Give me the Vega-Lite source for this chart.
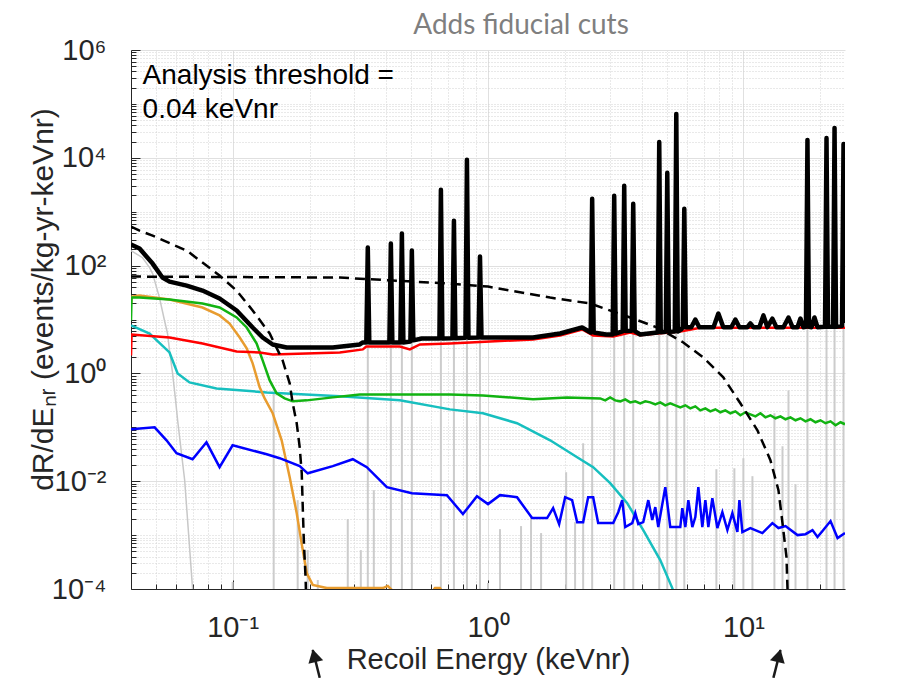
{
  "$schema": "https://vega.github.io/schema/vega-lite/v6.json",
  "width": 714,
  "height": 539,
  "autosize": {"type": "none"},
  "padding": {"left": 131, "top": 50, "right": 56, "bottom": 89},
  "background": "white",
  "config": {"view": {"stroke": null}, "font": "Liberation Sans"},
  "title": {"text": "Adds fiducial cuts", "font": "Lato", "fontSize": 28, "fontWeight": "normal", "color": "#7f7f7f", "anchor": "middle", "frame": "group", "dx": 33, "dy": 29, "offset": 3, "baseline": "alphabetic"},
  "datasets": {
    "graySpikes": [
      {"E": 0.3383, "v": 216}, {"E": 0.4165, "v": 256}, {"E": 0.46, "v": 392}, {"E": 0.5033, "v": 190},
      {"E": 0.654, "v": 2557}, {"E": 0.7355, "v": 681}, {"E": 0.8271, "v": 9184}, {"E": 0.9303, "v": 147},
      {"E": 2.558, "v": 1742}, {"E": 3.12, "v": 1979}, {"E": 3.415, "v": 3030}, {"E": 3.704, "v": 1408},
      {"E": 4.683, "v": 19700}, {"E": 5.035, "v": 5271}, {"E": 5.461, "v": 65300}, {"E": 5.87, "v": 1133},
      {"E": 17.82, "v": 21500}, {"E": 21.16, "v": 23400}, {"E": 22.75, "v": 35900}, {"E": 24.67, "v": 18100},
      {"E": 0.1, "v": 0.000135}, {"E": 0.1448, "v": 0.426}, {"E": 0.1798, "v": 0.00445}, {"E": 0.1968, "v": 0.000527},
      {"E": 0.2155, "v": 0.000147}, {"E": 0.2824, "v": 0.00198}, {"E": 0.3177, "v": 0.000527}, {"E": 0.3572, "v": 0.00681},
      {"E": 1.0, "v": 0.000129}, {"E": 1.114, "v": 0.00129}, {"E": 1.347, "v": 0.00147}, {"E": 1.474, "v": 0.00215},
      {"E": 1.614, "v": 0.00109}, {"E": 2.023, "v": 0.0147}, {"E": 2.193, "v": 0.00174}, {"E": 2.358, "v": 0.0506},
      {"E": 7.839, "v": 0.0167}, {"E": 9.221, "v": 0.0174}, {"E": 10, "v": 0.0267}, {"E": 10.85, "v": 0.0124},
      {"E": 13.23, "v": 0.182}, {"E": 14.23, "v": 0.0445}, {"E": 15.02, "v": 0.484}, {"E": 16.0, "v": 0.0088}
    ],
    "grayCurve": [
      {"E": 0.04, "v": 190}, {"E": 0.0444, "v": 140}, {"E": 0.0473, "v": 91.8}, {"E": 0.0486, "v": 71.1},
      {"E": 0.0517, "v": 25.5}, {"E": 0.0541, "v": 9.58}, {"E": 0.0556, "v": 5.5}, {"E": 0.0566, "v": 2.67},
      {"E": 0.0582, "v": 1.0}, {"E": 0.0598, "v": 0.316}, {"E": 0.0609, "v": 0.135}, {"E": 0.0649, "v": 0.0104},
      {"E": 0.0697, "v": 0.0001}, {"E": 0.0703, "v": 0.00006}
    ],
    "cyan": [
      {"E": 0.04, "v": 7.74}, {"E": 0.0473, "v": 5.5}, {"E": 0.0566, "v": 2.45}, {"E": 0.0609, "v": 1.0},
      {"E": 0.0678, "v": 0.681}, {"E": 0.0865, "v": 0.527}, {"E": 0.136, "v": 0.444}, {"E": 0.2628, "v": 0.375},
      {"E": 0.4517, "v": 0.316}, {"E": 0.7094, "v": 0.215}, {"E": 0.956, "v": 0.182}, {"E": 1.299, "v": 0.119},
      {"E": 1.751, "v": 0.0574}, {"E": 2.234, "v": 0.0278}, {"E": 2.581, "v": 0.0182}, {"E": 3.009, "v": 0.00918},
      {"E": 3.508, "v": 0.00392}, {"E": 4.054, "v": 0.00124}, {"E": 4.726, "v": 0.000344}, {"E": 5.268, "v": 0.000104},
      {"E": 5.461, "v": 0.000063}
    ],
    "orange": [
      {"E": 0.04, "v": 19.8}, {"E": 0.0402, "v": 26.6}, {"E": 0.0432, "v": 27.8}, {"E": 0.0566, "v": 23.5},
      {"E": 0.0762, "v": 16.7}, {"E": 0.0889, "v": 11.9}, {"E": 0.0973, "v": 8.43}, {"E": 0.1066, "v": 4.64},
      {"E": 0.1135, "v": 2.91}, {"E": 0.1198, "v": 1.54}, {"E": 0.1276, "v": 0.551}, {"E": 0.1335, "v": 0.344},
      {"E": 0.1435, "v": 0.182}, {"E": 0.1556, "v": 0.0574}, {"E": 0.1673, "v": 0.01185}, {"E": 0.1782, "v": 0.00256},
      {"E": 0.1865, "v": 0.000681}, {"E": 0.195, "v": 0.000198}, {"E": 0.2059, "v": 0.000119}, {"E": 0.2337, "v": 0.000104},
      {"E": 0.3875, "v": 0.000104}, {"E": 0.4053, "v": 0.000114}, {"E": 0.428, "v": 0.000088}, {"E": 0.603, "v": 0.000088},
      {"E": 0.62, "v": 0.000104}, {"E": 0.6481, "v": 0.000104}, {"E": 0.666, "v": 0.000088}
    ],
    "green": [
      {"E": 0.04, "v": 9.58}, {"E": 0.0402, "v": 25.5}, {"E": 0.0432, "v": 25.5}, {"E": 0.0566, "v": 23.5},
      {"E": 0.0762, "v": 19.8}, {"E": 0.0889, "v": 16.7}, {"E": 0.1037, "v": 10.9}, {"E": 0.1135, "v": 7.11},
      {"E": 0.1242, "v": 3.59}, {"E": 0.1311, "v": 1.74}, {"E": 0.1397, "v": 0.742}, {"E": 0.1487, "v": 0.426},
      {"E": 0.1599, "v": 0.344}, {"E": 0.1719, "v": 0.303}, {"E": 0.195, "v": 0.316}, {"E": 0.2467, "v": 0.359},
      {"E": 0.3148, "v": 0.408}, {"E": 0.7094, "v": 0.408}, {"E": 0.956, "v": 0.391}, {"E": 1.501, "v": 0.33},
      {"E": 2.041, "v": 0.359},
      {"E": 2.749, "v": 0.344}, {"E": 2.877, "v": 0.316}, {"E": 3.009, "v": 0.359}, {"E": 3.149, "v": 0.316},
      {"E": 3.294, "v": 0.303}, {"E": 3.447, "v": 0.33}, {"E": 3.605, "v": 0.29}, {"E": 3.773, "v": 0.303},
      {"E": 3.946, "v": 0.278}, {"E": 4.129, "v": 0.303}, {"E": 4.318, "v": 0.29}, {"E": 4.519, "v": 0.267},
      {"E": 4.726, "v": 0.29}, {"E": 4.946, "v": 0.256}, {"E": 5.173, "v": 0.278}, {"E": 5.413, "v": 0.256},
      {"E": 5.662, "v": 0.235}, {"E": 5.925, "v": 0.256}, {"E": 6.197, "v": 0.225}, {"E": 6.485, "v": 0.245},
      {"E": 6.782, "v": 0.206}, {"E": 7.097, "v": 0.225}, {"E": 7.423, "v": 0.198}, {"E": 7.768, "v": 0.216},
      {"E": 8.124, "v": 0.19}, {"E": 8.501, "v": 0.206}, {"E": 8.892, "v": 0.182}, {"E": 9.305, "v": 0.198},
      {"E": 9.732, "v": 0.167}, {"E": 10.18, "v": 0.19}, {"E": 10.65, "v": 0.174}, {"E": 11.15, "v": 0.16},
      {"E": 11.66, "v": 0.182}, {"E": 12.2, "v": 0.153}, {"E": 12.76, "v": 0.167}, {"E": 13.35, "v": 0.147},
      {"E": 13.97, "v": 0.16}, {"E": 14.62, "v": 0.141}, {"E": 15.29, "v": 0.153}, {"E": 16.0, "v": 0.135},
      {"E": 16.73, "v": 0.147}, {"E": 17.51, "v": 0.129}, {"E": 18.31, "v": 0.141}, {"E": 19.16, "v": 0.124},
      {"E": 20.04, "v": 0.135}, {"E": 20.97, "v": 0.119}, {"E": 21.94, "v": 0.129}, {"E": 22.96, "v": 0.109},
      {"E": 24.01, "v": 0.124}, {"E": 25.0, "v": 0.114}
    ],
    "red": [
      {"E": 0.04, "v": 2.15}, {"E": 0.0402, "v": 5.27}, {"E": 0.0566, "v": 4.64}, {"E": 0.0762, "v": 3.59},
      {"E": 0.1037, "v": 2.56}, {"E": 0.1276, "v": 2.45}, {"E": 0.1435, "v": 2.24}, {"E": 0.2628, "v": 2.45},
      {"E": 0.3235, "v": 2.79}, {"E": 0.3337, "v": 3.16}, {"E": 0.4517, "v": 3.16}, {"E": 0.4943, "v": 2.79},
      {"E": 0.5411, "v": 3.44}, {"E": 0.7094, "v": 3.59}, {"E": 1.501, "v": 4.26}, {"E": 1.916, "v": 5.05},
      {"E": 2.337, "v": 6.52}, {"E": 2.581, "v": 5.05}, {"E": 3.092, "v": 4.84}, {"E": 3.605, "v": 5.74},
      {"E": 3.946, "v": 5.1}, {"E": 4.6, "v": 5.5}, {"E": 5.662, "v": 6.0}, {"E": 6.782, "v": 7.0},
      {"E": 25, "v": 7.0}
    ],
    "blue": [
      {"E": 0.04, "v": 0.0918}, {"E": 0.0495, "v": 0.1}, {"E": 0.0551, "v": 0.0574}, {"E": 0.0603, "v": 0.033},
      {"E": 0.0697, "v": 0.0256}, {"E": 0.079, "v": 0.0527}, {"E": 0.0889, "v": 0.0182}, {"E": 0.1, "v": 0.0464},
      {"E": 0.136, "v": 0.0316}, {"E": 0.1528, "v": 0.0267}, {"E": 0.1831, "v": 0.019}, {"E": 0.1968, "v": 0.014},
      {"E": 0.2467, "v": 0.019}, {"E": 0.2955, "v": 0.0256}, {"E": 0.3353, "v": 0.0182}, {"E": 0.4017, "v": 0.00774},
      {"E": 0.5033, "v": 0.006}, {"E": 0.6904, "v": 0.00551}, {"E": 0.7977, "v": 0.00245}, {"E": 0.9054, "v": 0.00528},
      {"E": 1.0, "v": 0.00376}, {"E": 1.114, "v": 0.00551}, {"E": 1.299, "v": 0.00506}, {"E": 1.488, "v": 0.00207},
      {"E": 1.704, "v": 0.00207}, {"E": 1.799, "v": 0.00317}, {"E": 1.899, "v": 0.0016}, {"E": 2.005, "v": 0.00506},
      {"E": 2.135, "v": 0.00445}, {"E": 2.234, "v": 0.00174}, {"E": 2.358, "v": 0.00174}, {"E": 2.467, "v": 0.00506},
      {"E": 2.581, "v": 0.00506}, {"E": 2.7, "v": 0.00167}, {"E": 3.092, "v": 0.00167}, {"E": 3.236, "v": 0.00266},
      {"E": 3.354, "v": 0.00445}, {"E": 3.447, "v": 0.00141}, {"E": 3.671, "v": 0.00167}, {"E": 3.773, "v": 0.00256},
      {"E": 3.877, "v": 0.0016}, {"E": 4.054, "v": 0.00174}, {"E": 4.243, "v": 0.00445}, {"E": 4.397, "v": 0.0019},
      {"E": 4.519, "v": 0.00331}, {"E": 4.643, "v": 0.00141}, {"E": 4.946, "v": 0.00774}, {"E": 5.173, "v": 0.00141},
      {"E": 5.662, "v": 0.00141}, {"E": 5.766, "v": 0.00317}, {"E": 5.925, "v": 0.00141}, {"E": 6.088, "v": 0.00445},
      {"E": 6.311, "v": 0.00141}, {"E": 6.485, "v": 0.00216}, {"E": 6.663, "v": 0.00774}, {"E": 6.906, "v": 0.00141},
      {"E": 7.097, "v": 0.00445}, {"E": 7.292, "v": 0.00141}, {"E": 7.559, "v": 0.00485}, {"E": 7.91, "v": 0.00135},
      {"E": 8.273, "v": 0.00266}, {"E": 8.657, "v": 0.00124}, {"E": 9.055, "v": 0.00256}, {"E": 9.475, "v": 0.00114},
      {"E": 9.648, "v": 0.00445}, {"E": 9.91, "v": 0.00114}, {"E": 10.65, "v": 0.00135}, {"E": 11.87, "v": 0.00109},
      {"E": 12.99, "v": 0.00167}, {"E": 13.72, "v": 0.00135}, {"E": 14.62, "v": 0.00147}, {"E": 16.29, "v": 0.001},
      {"E": 17.51, "v": 0.00104}, {"E": 18.65, "v": 0.00124}, {"E": 19.51, "v": 0.00092}, {"E": 20.41, "v": 0.00119},
      {"E": 21.94, "v": 0.00182}, {"E": 23.38, "v": 0.00088}, {"E": 25, "v": 0.00109}
    ],
    "dashedFlat": [
      {"E": 0.04, "v": 62.6}, {"E": 0.2628, "v": 60.0}, {"E": 0.7094, "v": 46.4}, {"E": 1.0, "v": 40.8},
      {"E": 1.751, "v": 25.5}, {"E": 2.512, "v": 19.8}, {"E": 3.605, "v": 10.9}, {"E": 4.6, "v": 7.11},
      {"E": 5.818, "v": 3.75}, {"E": 6.969, "v": 1.97}, {"E": 8.347, "v": 0.843}, {"E": 9.732, "v": 0.279},
      {"E": 11.35, "v": 0.088}, {"E": 12.76, "v": 0.0245}, {"E": 13.72, "v": 0.00681}, {"E": 14.23, "v": 0.00167},
      {"E": 14.75, "v": 0.000391}, {"E": 14.89, "v": 0.000096}, {"E": 15.0, "v": 0.00004}
    ],
    "dashedSteep": [
      {"E": 0.04, "v": 527}, {"E": 0.0432, "v": 445}, {"E": 0.0486, "v": 359}, {"E": 0.0661, "v": 190},
      {"E": 0.0762, "v": 114}, {"E": 0.0889, "v": 65.3}, {"E": 0.1037, "v": 34.4}, {"E": 0.1198, "v": 14.7},
      {"E": 0.1397, "v": 5.5}, {"E": 0.157, "v": 1.74}, {"E": 0.1673, "v": 0.653}, {"E": 0.1719, "v": 0.279},
      {"E": 0.1782, "v": 0.119}, {"E": 0.1831, "v": 0.0426}, {"E": 0.1865, "v": 0.014}, {"E": 0.1882, "v": 0.00331},
      {"E": 0.19, "v": 0.000808}, {"E": 0.1932, "v": 0.000147}, {"E": 0.194, "v": 0.000063}
    ],
    "total": [
      {"E": 0.04, "v": 245}, {"E": 0.0432, "v": 207}, {"E": 0.0486, "v": 109}, {"E": 0.0531, "v": 60},
      {"E": 0.0566, "v": 50.5}, {"E": 0.0661, "v": 42.6}, {"E": 0.0762, "v": 34.4}, {"E": 0.0889, "v": 24.5},
      {"E": 0.1037, "v": 14.7}, {"E": 0.1198, "v": 7.11}, {"E": 0.1311, "v": 4.64}, {"E": 0.1435, "v": 3.44},
      {"E": 0.1628, "v": 3.03}, {"E": 0.2004, "v": 3.03}, {"E": 0.2467, "v": 3.03}, {"E": 0.3148, "v": 3.44},
      {"E": 0.3235, "v": 3.75},
      {"E": 0.3338, "v": 3.75}, {"E": 0.3383, "v": 216}, {"E": 0.3429, "v": 3.75},
      {"E": 0.38, "v": 3.75},
      {"E": 0.4109, "v": 3.75}, {"E": 0.4165, "v": 256}, {"E": 0.4222, "v": 3.75},
      {"E": 0.4538, "v": 3.75}, {"E": 0.46, "v": 392}, {"E": 0.4663, "v": 3.75},
      {"E": 0.4966, "v": 3.9}, {"E": 0.5033, "v": 190}, {"E": 0.5101, "v": 4.1},
      {"E": 0.55, "v": 4.44},
      {"E": 0.6452, "v": 4.44}, {"E": 0.654, "v": 2557}, {"E": 0.6629, "v": 4.44},
      {"E": 0.7256, "v": 4.5}, {"E": 0.7355, "v": 681}, {"E": 0.7455, "v": 4.5},
      {"E": 0.816, "v": 4.6}, {"E": 0.8271, "v": 9184}, {"E": 0.8384, "v": 4.6},
      {"E": 0.9178, "v": 4.64}, {"E": 0.9303, "v": 147}, {"E": 0.943, "v": 4.64},
      {"E": 1.5, "v": 4.64}, {"E": 1.916, "v": 5.5}, {"E": 2.337, "v": 7.11},
      {"E": 2.524, "v": 5.74}, {"E": 2.558, "v": 1742}, {"E": 2.593, "v": 5.74},
      {"E": 2.9, "v": 5.27},
      {"E": 3.078, "v": 5.27}, {"E": 3.12, "v": 1979}, {"E": 3.162, "v": 5.5},
      {"E": 3.369, "v": 6.0}, {"E": 3.415, "v": 3030}, {"E": 3.461, "v": 6.1},
      {"E": 3.654, "v": 6.2}, {"E": 3.704, "v": 1408}, {"E": 3.754, "v": 6.1},
      {"E": 3.946, "v": 5.27}, {"E": 4.6, "v": 5.74},
      {"E": 4.62, "v": 5.74}, {"E": 4.683, "v": 19700}, {"E": 4.747, "v": 5.8},
      {"E": 4.968, "v": 5.9}, {"E": 5.035, "v": 5271}, {"E": 5.104, "v": 5.9},
      {"E": 5.388, "v": 6.0}, {"E": 5.461, "v": 65300}, {"E": 5.535, "v": 6.0},
      {"E": 5.7, "v": 6.5},
      {"E": 5.791, "v": 7.2}, {"E": 5.87, "v": 1133}, {"E": 5.95, "v": 7.2},
      {"E": 6.25, "v": 7.2}, {"E": 6.485, "v": 10.0}, {"E": 6.72, "v": 7.2},
      {"E": 7.64, "v": 7.2}, {"E": 7.98, "v": 12.9}, {"E": 8.347, "v": 7.2},
      {"E": 8.97, "v": 7.2}, {"E": 9.305, "v": 10.0}, {"E": 9.65, "v": 7.2},
      {"E": 10.37, "v": 7.2}, {"E": 10.65, "v": 8.5}, {"E": 10.95, "v": 7.2},
      {"E": 11.55, "v": 7.2}, {"E": 11.98, "v": 11.9}, {"E": 12.42, "v": 7.2},
      {"E": 12.99, "v": 10.4}, {"E": 13.47, "v": 7.2},
      {"E": 14.35, "v": 7.2}, {"E": 15.02, "v": 10.9}, {"E": 15.57, "v": 7.2},
      {"E": 16.29, "v": 7.2}, {"E": 16.73, "v": 10.4}, {"E": 17.19, "v": 7.2},
      {"E": 17.58, "v": 7.3}, {"E": 17.82, "v": 21500}, {"E": 18.06, "v": 7.3},
      {"E": 18.48, "v": 7.2}, {"E": 18.98, "v": 10.9}, {"E": 19.51, "v": 7.2},
      {"E": 20.88, "v": 7.3}, {"E": 21.16, "v": 23400}, {"E": 21.45, "v": 7.3},
      {"E": 22.45, "v": 7.3}, {"E": 22.75, "v": 35900}, {"E": 23.06, "v": 7.3},
      {"E": 24.34, "v": 7.6}, {"E": 24.67, "v": 18100}, {"E": 25.0, "v": 8.6}
    ],
    "note": [
      {"E": 0.0444, "v": 234000, "t": "Analysis threshold ="},
      {"E": 0.0444, "v": 55000, "t": "0.04 keVnr"}
    ],
    "arrows": [
      {"E": 0.2194, "v": 0.00000225, "E2": 0.2059, "v2": 0.0000074},
      {"E": 13.11, "v": 0.00000225, "E2": 13.97, "v2": 0.0000074}
    ],
    "headLeft": [{"E": 0.2087, "v": 0.0000058}],
    "headRight": [{"E": 13.78, "v": 0.0000058}]
  },
  "encoding": {
    "x": {
      "field": "E", "type": "quantitative",
      "scale": {"type": "log", "domain": [0.04, 25], "nice": false},
      "axis": {
        "orient": "bottom",
        "values": [0.05, 0.06, 0.07, 0.08, 0.09, 0.1, 0.2, 0.3, 0.4, 0.5, 0.6, 0.7, 0.8, 0.9, 1, 2, 3, 4, 5, 6, 7, 8, 9, 10, 20],
        "labelExpr": "datum.value == 0.1 ? '10⁻¹' : datum.value == 1 ? '10⁰' : datum.value == 10 ? '10¹' : ''",
        "labelFont": "Liberation Sans", "labelFontSize": 29, "labelColor": "#262626",
        "labelBaseline": "alphabetic", "labelAlign": "center", "labelPadding": 56,
        "labelOverlap": false, "labelFlush": false, "labelBound": false,
        "ticks": true,
        "tickSize": {"condition": {"test": "datum.value == 0.1 || datum.value == 1 || datum.value == 10", "value": -9}, "value": -5},
        "tickColor": "#262626", "tickWidth": 1,
        "domain": true, "domainColor": "#262626", "domainWidth": 1,
        "grid": true, "gridWidth": 1,
        "gridColor": {"condition": {"test": "datum.value == 0.1 || datum.value == 1 || datum.value == 10", "value": "#e0e0e0"}, "value": "#d2d2d2"},
        "gridDash": {"condition": {"test": "datum.value == 0.1 || datum.value == 1 || datum.value == 10", "value": []}, "value": [1, 2]},
        "title": "Recoil Energy (keVnr)",
        "titleFont": "Liberation Sans", "titleFontSize": 29, "titleFontWeight": "normal", "titleColor": "#262626",
        "titleBaseline": "alphabetic", "titleY": 79
      }
    },
    "y": {
      "field": "v", "type": "quantitative",
      "scale": {"type": "log", "domain": [0.0001, 1000000], "nice": false},
      "axis": {
        "orient": "left",
        "values": [0.0001, 0.0002, 0.0003, 0.0004, 0.0005, 0.0006, 0.0007, 0.0008, 0.0009,
                   0.001, 0.002, 0.003, 0.004, 0.005, 0.006, 0.007, 0.008, 0.009,
                   0.01, 0.02, 0.03, 0.04, 0.05, 0.06, 0.07, 0.08, 0.09,
                   0.1, 0.2, 0.3, 0.4, 0.5, 0.6, 0.7, 0.8, 0.9,
                   1, 2, 3, 4, 5, 6, 7, 8, 9,
                   10, 20, 30, 40, 50, 60, 70, 80, 90,
                   100, 200, 300, 400, 500, 600, 700, 800, 900,
                   1000, 2000, 3000, 4000, 5000, 6000, 7000, 8000, 9000,
                   10000, 20000, 30000, 40000, 50000, 60000, 70000, 80000, 90000,
                   100000, 200000, 300000, 400000, 500000, 600000, 700000, 800000, 900000,
                   1000000],
        "labelExpr": "datum.value == 0.0001 ? '10⁻⁴' : datum.value == 0.01 ? '10⁻²' : datum.value == 1 ? '10⁰' : datum.value == 100 ? '10²' : datum.value == 10000 ? '10⁴' : datum.value == 1000000 ? '10⁶' : ''",
        "labelFont": "Liberation Sans", "labelFontSize": 29, "labelColor": "#262626",
        "labelAlign": "right", "labelBaseline": "middle", "labelPadding": 34,
        "labelOverlap": false, "labelFlush": false, "labelBound": false,
        "ticks": true,
        "tickSize": {"condition": {"test": "datum.value == 0.0001 || datum.value == 0.01 || datum.value == 1 || datum.value == 100 || datum.value == 10000 || datum.value == 1000000", "value": -9}, "value": -5},
        "tickColor": "#262626", "tickWidth": 1,
        "domain": true, "domainColor": "#262626", "domainWidth": 1,
        "grid": true, "gridWidth": 1,
        "gridColor": {"condition": {"test": "datum.value == 0.0001 || datum.value == 0.01 || datum.value == 1 || datum.value == 100 || datum.value == 10000 || datum.value == 1000000", "value": "#e0e0e0"}, "value": "#d2d2d2"},
        "gridDash": {"condition": {"test": "datum.value == 0.0001 || datum.value == 0.01 || datum.value == 1 || datum.value == 100 || datum.value == 10000 || datum.value == 1000000", "value": []}, "value": [1, 2]},
        "title": "dR/dEₙᵣ (events/kg-yr-keVnr)",
        "titleFont": "Liberation Sans", "titleFontSize": 30, "titleFontWeight": "normal", "titleColor": "#262626",
        "titleAngle": 270, "titleAlign": "center", "titleBaseline": "alphabetic", "titleX": -79, "titleY": 249
      }
    }
  },
  "layer": [
    {"data": {"name": "graySpikes"}, "mark": {"type": "rule", "color": "#cccccc", "strokeWidth": 2, "clip": true}, "encoding": {"y2": {"datum": 0.0001}}},
    {"data": {"name": "grayCurve"}, "mark": {"type": "line", "color": "#c8c8c8", "strokeWidth": 1.5, "clip": true}, "encoding": {}},
    {"data": {"name": "cyan"}, "mark": {"type": "line", "color": "#17bfbf", "strokeWidth": 2.5, "clip": true}, "encoding": {}},
    {"data": {"name": "orange"}, "mark": {"type": "line", "color": "#e89c2f", "strokeWidth": 2.5, "clip": true}, "encoding": {}},
    {"data": {"name": "green"}, "mark": {"type": "line", "color": "#12b312", "strokeWidth": 2.5, "clip": true}, "encoding": {}},
    {"data": {"name": "red"}, "mark": {"type": "line", "color": "#ff0000", "strokeWidth": 2.5, "clip": true}, "encoding": {}},
    {"data": {"name": "blue"}, "mark": {"type": "line", "color": "#0000ff", "strokeWidth": 2.5, "clip": true}, "encoding": {}},
    {"data": {"name": "dashedFlat"}, "mark": {"type": "line", "color": "#000000", "strokeWidth": 2.5, "strokeDash": [10, 6], "clip": true}, "encoding": {}},
    {"data": {"name": "dashedSteep"}, "mark": {"type": "line", "color": "#000000", "strokeWidth": 2.5, "strokeDash": [10, 6], "clip": true}, "encoding": {}},
    {"data": {"name": "total"}, "mark": {"type": "line", "color": "#000000", "strokeWidth": 4.5, "strokeJoin": "round", "clip": true}, "encoding": {}},
    {"data": {"name": "note"}, "mark": {"type": "text", "align": "left", "baseline": "alphabetic", "font": "Liberation Sans", "fontSize": 28, "color": "#000000"}, "encoding": {"text": {"field": "t"}}},
    {"data": {"name": "arrows"}, "mark": {"type": "rule", "color": "#1a1a1a", "strokeWidth": 2.5, "clip": false}, "encoding": {"x2": {"field": "E2"}, "y2": {"field": "v2"}}},
    {"data": {"name": "headLeft"}, "mark": {"type": "point", "shape": "triangle-up", "filled": true, "color": "#1a1a1a", "opacity": 1, "size": 230, "angle": 346, "clip": false}, "encoding": {}},
    {"data": {"name": "headRight"}, "mark": {"type": "point", "shape": "triangle-up", "filled": true, "color": "#1a1a1a", "opacity": 1, "size": 230, "angle": 14, "clip": false}, "encoding": {}}
  ]
}
